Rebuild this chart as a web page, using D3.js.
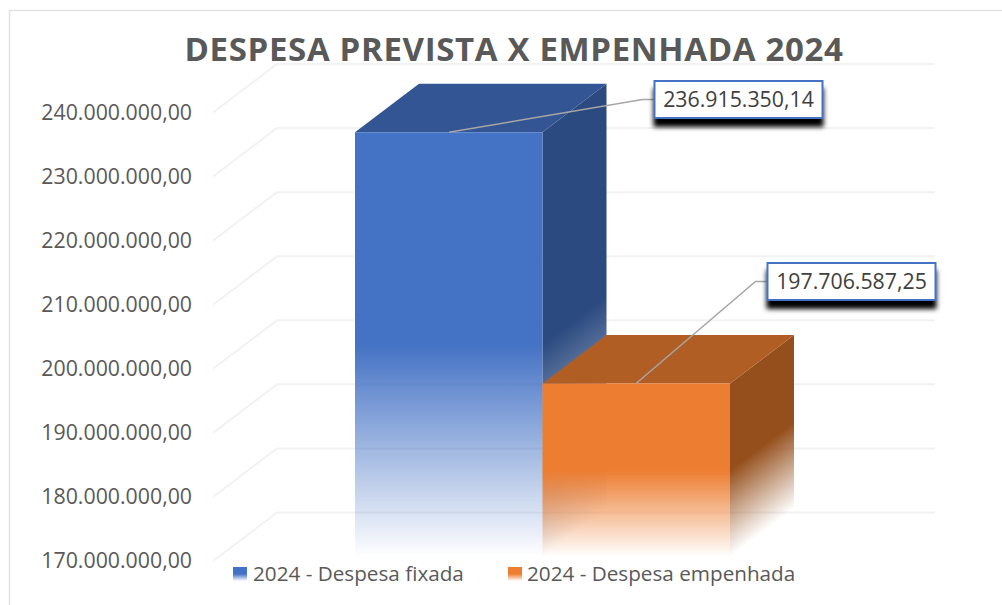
<!DOCTYPE html>
<html><head><meta charset="utf-8">
<script src="https://cdn.jsdelivr.net/npm/d3@7"></script>
<style>html,body{margin:0;padding:0;background:#fff}svg{display:block}text{font-family:"Open Sans",sans-serif}</style>
</head><body><div id="c"></div>
<script>
const chartTitle = "DESPESA PREVISTA X EMPENHADA 2024";
const seriesNames = ["2024 - Despesa fixada", "2024 - Despesa empenhada"];
const seriesValues = [236915350.14, 197706587.25];
const seriesLabels = ["236.915.350,14", "197.706.587,25"];
const tickValues = [170e6, 180e6, 190e6, 200e6, 210e6, 220e6, 230e6, 240e6];
const frontColors = ["#4472c4", "#ed7d31"];
const topColors = ["#335593", "#b15e25"];
const sideColors = ["#2b4a80", "#954f1c"];

const W = 1002, H = 605, DX = 64, DY = -48.5, floorY = 557;
const svg = d3.select("#c").append("svg").attr("width", W).attr("height", H);
const defs = svg.append("defs");
const y = d3.scaleLinear().domain([170e6, 240e6]).range([561, 112.5]);
const x = d3.scaleBand().domain(seriesNames).range([355, 730]);
const ptBR = d3.formatLocale({decimal: ",", thousands: ".", grouping: [3], currency: ["R$", ""]});

svg.append("path").attr("d", `M${W},10.5H9.5V${H}`).attr("fill", "none").attr("stroke", "#e2e2e2").attr("stroke-width", 1.5);

// gridlines on side wall and back wall
svg.append("g").selectAll("path").data(tickValues).join("path")
  .attr("d", d => `M213,${y(d)}L${213 + DX},${y(d) + DY}H935`)
  .attr("fill", "none").attr("stroke", "#f2f2f2").attr("stroke-width", 2);

// axis
const axis = d3.axisLeft(y).tickValues(tickValues).tickSize(0).tickPadding(0).tickFormat(ptBR.format(",.2f"));
const ag = svg.append("g").attr("transform", "translate(192,0)").call(axis);
ag.select(".domain").remove();
ag.selectAll("text").attr("fill", "#595959").style("font-size", "21.3px").style("font-family", '"Open Sans",sans-serif');

function fade(id, color, x1, y1, x2, y2, mid) {
  const g = defs.append("linearGradient").attr("id", id).attr("gradientUnits", "userSpaceOnUse")
    .attr("x1", x1).attr("y1", y1).attr("x2", x2).attr("y2", y2);
  g.append("stop").attr("offset", 0).attr("stop-color", color);
  g.append("stop").attr("offset", mid).attr("stop-color", color);
  g.append("stop").attr("offset", 1).attr("stop-color", color).attr("stop-opacity", 0);
}

seriesNames.forEach((name, i) => {
  const x0 = x(name), x1 = x0 + x.bandwidth(), yt = y(seriesValues[i]), h = floorY - yt;
  fade("front" + i, frontColors[i], 0, yt, 0, floorY, 0.5);
  // isolines of side shading run along the depth direction
  const len = Math.hypot(DX, DY), nx = -DY / len, ny = DX / len, p = ny * h;
  fade("side" + i, sideColors[i], x1, yt, x1 + nx * p, yt + ny * p, 0.5);
  const g = svg.append("g");
  g.append("path").attr("d", `M${x1},${yt}l${DX},${DY}V${floorY + DY}L${x1},${floorY}Z`).attr("fill", `url(#side${i})`);
  g.append("path").attr("d", `M${x0},${yt}l${DX},${DY}H${x1 + DX}L${x1},${yt}Z`).attr("fill", topColors[i]);
  g.append("rect").attr("x", x0).attr("y", yt).attr("width", x1 - x0).attr("height", h).attr("fill", `url(#front${i})`);
});

// callouts
const f = defs.append("filter").attr("id", "sh").attr("x", "-10%").attr("y", "-20%").attr("width", "120%").attr("height", "190%");
f.append("feDropShadow").attr("dx", 0).attr("dy", 8).attr("stdDeviation", 2.4).attr("flood-color", "#000").attr("flood-opacity", 1);
const boxX = [654.5, 767.5], boxY = [81, 263], boxW = 168, boxH = 37;
const anchorX = [449, 636];
seriesNames.forEach((name, i) => {
  const ym = boxY[i] + boxH / 2;
  svg.append("path").attr("d", `M${anchorX[i]},${y(seriesValues[i])}L${boxX[i] - 12},${ym}H${boxX[i]}`)
    .attr("fill", "none").attr("stroke", "#a6a6a6").attr("stroke-width", 1.5);
  svg.append("rect").attr("x", boxX[i]).attr("y", boxY[i]).attr("width", boxW).attr("height", boxH)
    .attr("fill", "#fff").attr("stroke", "#4472c4").attr("stroke-width", 2).attr("filter", "url(#sh)");
  svg.append("text").attr("x", boxX[i] + boxW / 2).attr("y", ym + 7.6).attr("text-anchor", "middle")
    .attr("fill", "#404040").style("font-size", "21.3px").text(seriesLabels[i]);
});

// title
svg.append("text").attr("x", 514).attr("y", 61).attr("text-anchor", "middle").attr("fill", "#595959")
  .style("font-size", "33px").style("font-weight", 700).style("letter-spacing", "0.66px").text(chartTitle);

// legend
const legX = [233, 508], legT = [253, 527];
seriesNames.forEach((name, i) => {
  fade("leg" + i, frontColors[i], 0, 567, 0, 581, 0.5);
  svg.append("rect").attr("x", legX[i]).attr("y", 567).attr("width", 14).attr("height", 14).attr("fill", `url(#leg${i})`);
  svg.append("text").attr("x", legT[i]).attr("y", 581).attr("fill", "#595959").style("font-size", "20.7px").text(name);
});
</script></body></html>
